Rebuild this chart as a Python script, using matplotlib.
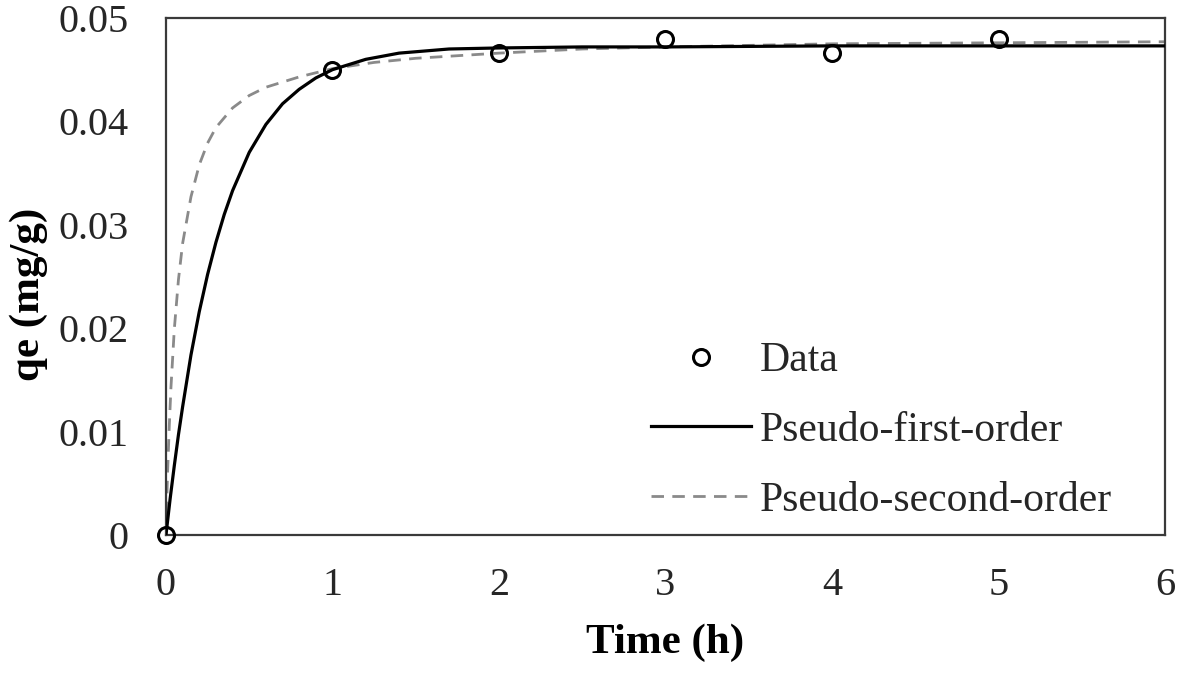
import matplotlib
matplotlib.use("Agg")
import matplotlib.pyplot as plt

# measured data
time_h = [0, 1, 2, 3, 4, 5]
qe_data = [0.0, 0.0450, 0.0466, 0.0480, 0.0466, 0.0480]

# model curves
t_first = [0, 0.025, 0.05, 0.075, 0.1, 0.15, 0.2, 0.25, 0.3, 0.35, 0.4, 0.5,
           0.6, 0.7, 0.8, 0.9, 1.0, 1.2, 1.4, 1.7, 2.0, 2.5, 3, 4, 5, 6]
q_first = [0, 0.0035, 0.0067, 0.0097, 0.0124, 0.0174, 0.0216, 0.0252, 0.0283,
           0.0310, 0.0333, 0.0370, 0.0397, 0.0417, 0.0431, 0.0442, 0.0450,
           0.0460, 0.0466, 0.0470, 0.0471, 0.0472, 0.0472, 0.0473, 0.0473, 0.0473]

t_second = [0, 0.005, 0.01, 0.02, 0.03, 0.05, 0.075, 0.1, 0.15, 0.2, 0.25, 0.3,
            0.4, 0.5, 0.6, 0.8, 1.0, 1.25, 1.5, 2, 2.5, 3, 4, 5, 6]
q_second = [0, 0.0035, 0.0062, 0.0106, 0.0143, 0.0199, 0.0247, 0.0282, 0.0327,
            0.0358, 0.0379, 0.0394, 0.0413, 0.0425, 0.0433, 0.0443, 0.0451,
            0.0457, 0.0461, 0.0466, 0.0470, 0.0472, 0.0475, 0.0476, 0.0477]

plt.rcParams['font.family'] = ['Liberation Serif', 'DejaVu Serif']
plt.rcParams['font.size'] = 30
text_color = '#262626'

fig = plt.figure(figsize=(11.83, 6.73), dpi=100)
ax = fig.add_axes([0.1403, 0.2051, 0.8445, 0.7682])

ax.plot(t_first, q_first, color='black', lw=2.3, label='Pseudo-first-order', zorder=3)
ax.plot(t_second, q_second, color='#8a8a8a', lw=2.0, ls=(0, (4.5, 3)),
        label='Pseudo-second-order', zorder=2)
ax.plot(time_h, qe_data, ls='none', marker='o', ms=11.5, mfc='none', mec='black',
        mew=2.2, label='Data', clip_on=False, zorder=4)

ax.set_xlim(0, 6)
ax.set_ylim(0, 0.05)
ax.set_xticks(range(7))
ax.set_yticks([0, 0.01, 0.02, 0.03, 0.04, 0.05])
ax.set_yticklabels(['0', '0.01', '0.02', '0.03', '0.04', '0.05'])
ax.tick_params(axis='both', length=0, colors=text_color, labelsize=29)
ax.tick_params(axis='x', pad=23)
ax.tick_params(axis='y', pad=27)

for s in ax.spines.values():
    s.set_color('#3a3a3a')
    s.set_linewidth(1.6)

ax.set_xlabel('Time (h)', fontweight='bold', fontsize=31, color='black')
ax.set_ylabel('qe (mg/g)', fontweight='bold', fontsize=31, color='black')
ax.xaxis.set_label_coords(0.5, -0.172)
ax.yaxis.set_label_coords(-0.118, 0.465)

handles, labels = ax.get_legend_handles_labels()
order = [2, 0, 1]
leg = ax.legend([handles[i] for i in order], [labels[i] for i in order],
                loc='lower right', bbox_to_anchor=(0.984, -0.043), frameon=False,
                fontsize=30, handlelength=2.4, handletextpad=0.2, labelspacing=0.75)
for t in leg.get_texts():
    t.set_color(text_color)

fig.savefig('out.png', dpi=100)
